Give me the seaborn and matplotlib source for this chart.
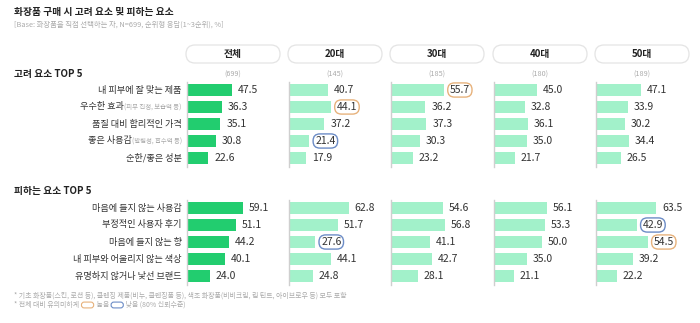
import matplotlib
matplotlib.use("Agg")
import matplotlib.pyplot as plt
import seaborn as sns
import pandas as pd
from matplotlib.patches import FancyBboxPatch
from matplotlib.offsetbox import TextArea, HPacker, AnnotationBbox, DrawingArea

sns.set_theme(style="white")
plt.rcParams['font.family'] = ['Noto Sans CJK KR', 'DejaVu Sans']

# ---------------- data ----------------
groups = ["전체", "20대", "30대", "40대", "50대"]
group_n = ["(699)", "(145)", "(185)", "(180)", "(189)"]

consider_items = ["내 피부에 잘 맞는 제품", "우수한 효과", "품질 대비 합리적인 가격", "좋은 사용감", "순한/좋은 성분"]
consider_notes = ["", "(피부 진정, 보습력 등)", "", "(발림성, 흡수력 등)", ""]
consider_total = [47.5, 36.3, 35.1, 30.8, 22.6]
consider_20s = [40.7, 44.1, 37.2, 21.4, 17.9]
consider_30s = [55.7, 36.2, 37.3, 30.3, 23.2]
consider_40s = [45.0, 32.8, 36.1, 35.0, 21.7]
consider_50s = [47.1, 33.9, 30.2, 34.4, 26.5]
# significance flags: 1 = higher, -1 = lower, 0 = none
consider_sig_20s = [0, 1, 0, -1, 0]
consider_sig_30s = [1, 0, 0, 0, 0]
consider_sig_40s = [0, 0, 0, 0, 0]
consider_sig_50s = [0, 0, 0, 0, 0]

avoid_items = ["마음에 들지 않는 사용감", "부정적인 사용자 후기", "마음에 들지 않는 향", "내 피부와 어울리지 않는 색상", "유명하지 않거나 낯선 브랜드"]
avoid_notes = ["", "", "", "", ""]
avoid_total = [59.1, 51.1, 44.2, 40.1, 24.0]
avoid_20s = [62.8, 51.7, 27.6, 44.1, 24.8]
avoid_30s = [54.6, 56.8, 41.1, 42.7, 28.1]
avoid_40s = [56.1, 53.3, 50.0, 35.0, 21.1]
avoid_50s = [63.5, 42.9, 54.5, 39.2, 22.2]
avoid_sig_20s = [0, 0, -1, 0, 0]
avoid_sig_30s = [0, 0, 0, 0, 0]
avoid_sig_40s = [0, 0, 0, 0, 0]
avoid_sig_50s = [0, -1, 1, 0, 0]

sections = [
    ("고려 요소 TOP 5", consider_items, consider_notes,
     [consider_total, consider_20s, consider_30s, consider_40s, consider_50s],
     [[0]*5, consider_sig_20s, consider_sig_30s, consider_sig_40s, consider_sig_50s]),
    ("피하는 요소 TOP 5", avoid_items, avoid_notes,
     [avoid_total, avoid_20s, avoid_30s, avoid_40s, avoid_50s],
     [[0]*5, avoid_sig_20s, avoid_sig_30s, avoid_sig_40s, avoid_sig_50s]),
]

# ---------------- style ----------------
W, H = 700, 323
C_TOTAL = "#22CD6F"
C_GROUP = "#A2F1CA"
C_TEXT = "#333333"
C_AXIS = "#CFCFCF"
C_HIGH = "#E7B27C"
C_LOW = "#6C8CC6"

fig = plt.figure(figsize=(W / 100, H / 100), dpi=100)

col_left = [187, 289, 391, 494, 596]
col_w = 97
sec_top = [81.5, 199.5]
sec_h = 85
sec_title_y = [74, 191]

def fx(px):
    return px / W

def fy(py):
    return 1 - py / H

# title
fig.text(fx(14), fy(12), "화장품 구매 시 고려 요소 및 피하는 요소", fontsize=7, fontweight="bold",
         color="#222222", va="center", ha="left")
fig.text(fx(14), fy(25), "[Base: 화장품을 직접 선택하는 자, N=699, 순위형 응답(1~3순위), %]",
         fontsize=5.3, color="#AAAAAA", va="center", ha="left")

# headers
for gi, g in enumerate(groups):
    x0 = col_left[gi] - 1
    pill = FancyBboxPatch((x0 / 100, (H - 63) / 100), 94 / 100, 18 / 100,
                          boxstyle="round,pad=0,rounding_size=0.09",
                          transform=fig.dpi_scale_trans, fc="white", ec="#E4E4E4", lw=0.9)
    fig.add_artist(pill)
    fig.text(fx(x0 + 47), fy(54), g, fontsize=7, fontweight="bold", color="#222222",
             ha="center", va="center")
    fig.text(fx(x0 + 47), fy(75), group_n[gi], fontsize=5.2, color="#AAAAAA",
             ha="center", va="center")

for si, (stitle, items, notes, vals, sigs) in enumerate(sections):
    fig.text(fx(14), fy(sec_title_y[si]), stitle, fontsize=7, fontweight="bold",
             color="#222222", ha="left", va="center")
    for gi in range(len(groups)):
        ax = fig.add_axes([fx(col_left[gi]), fy(sec_top[si] + sec_h), col_w / W, sec_h / H])
        df = pd.DataFrame({"item": items, "value": vals[gi]})
        sns.barplot(data=df, x="value", y="item", ax=ax, orient="h",
                    color=C_TOTAL if gi == 0 else C_GROUP, width=0.76,
                    saturation=1, edgecolor="none")
        ax.set_xlim(0, 102)
        ax.set_ylim(4.5, -0.5)
        ax.set_xticks([])
        ax.set_yticks([])
        ax.set_xlabel("")
        ax.set_ylabel("")
        for s in ["top", "right", "bottom"]:
            ax.spines[s].set_visible(False)
        ax.spines["left"].set_color(C_AXIS)
        ax.spines["left"].set_linewidth(1.0)
        ax.patch.set_alpha(0)
        labels = ax.bar_label(ax.containers[0], fmt="%.1f", padding=4.2,
                              fontsize=7.5, color=C_TEXT)
        for lab, sg in zip(labels, sigs[gi]):
            if sg != 0:
                lab.set_bbox(dict(boxstyle="round,pad=0.2,rounding_size=0.65", fc="white",
                                  ec=C_HIGH if sg > 0 else C_LOW, lw=1.0))
        if gi == 0:
            for i, (it, nt) in enumerate(zip(items, notes)):
                parts = [TextArea(it, textprops=dict(fontsize=6.6, color=C_TEXT))]
                if nt:
                    parts.append(TextArea(nt, textprops=dict(fontsize=4.6, color="#AAAAAA")))
                box = HPacker(children=parts, align="baseline", pad=0, sep=0)
                ab = AnnotationBbox(box, (0, i), xycoords=("axes fraction", "data"),
                                    xybox=(-3.8, 0), boxcoords="offset points",
                                    box_alignment=(1, 0.5), frameon=False, pad=0,
                                    annotation_clip=False)
                ax.add_artist(ab)

# footnotes
fig.text(fx(14), fy(296),
         "* 기초 화장품(스킨, 로션 등), 클렌징 제품(비누, 클렌징폼 등), 색조 화장품(비비크림, 립 틴트, 아이브로우 등) 모두 포함",
         fontsize=5.0, color="#AAAAAA", ha="left", va="center")

def pill_area(ec):
    da = DrawingArea(10, 5, 0, 0)
    da.add_artist(FancyBboxPatch((0.6, 0.4), 8.8, 4.2, boxstyle="round,pad=0,rounding_size=2",
                                 fc="none", ec=ec, lw=0.8))
    return da

fp = dict(fontsize=5.0, color="#AAAAAA")
foot = HPacker(children=[TextArea("* 전체 대비 유의미하게 ", textprops=fp), pill_area(C_HIGH),
                         TextArea(" 높음 ", textprops=fp), pill_area(C_LOW),
                         TextArea(" 낮음 (80% 신뢰수준)", textprops=fp)],
               align="center", pad=0, sep=0)
fig.add_artist(AnnotationBbox(foot, (fx(14), fy(305)), xycoords="figure fraction",
                              box_alignment=(0, 0.5), frameon=False, pad=0))

fig.savefig("out.png", dpi=100)
